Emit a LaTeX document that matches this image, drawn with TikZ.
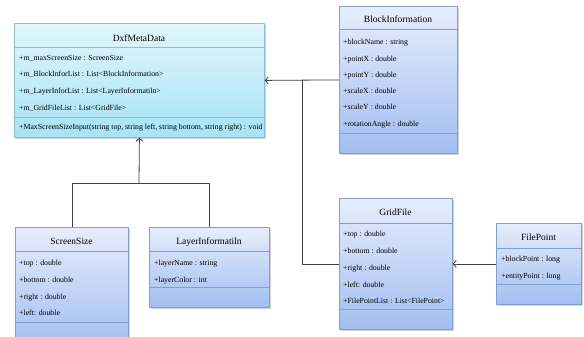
\documentclass[tikz,border=0pt]{standalone}
\usepackage{fontspec}
\setmainfont{Liberation Serif}
\usetikzlibrary{arrows.meta,shadows}

\definecolor{cyantop}{HTML}{E2F6FC}
\definecolor{cyanbot}{HTML}{A6E3F6}
\definecolor{cyanrule}{HTML}{88BDD2}
\definecolor{bluetop}{HTML}{E6EDFC}
\definecolor{bluebot}{HTML}{A2BEF0}
\definecolor{bluerule}{HTML}{7F9FCF}
\definecolor{wire}{HTML}{404040}

\tikzset{
  classbox/.style={draw=#1rule, line width=0.8pt, top color=#1top, bottom color=#1bot,
    anchor=north west, inner sep=0pt,
    drop shadow={shadow xshift=1.6pt, shadow yshift=-1.6pt, opacity=0.35, fill=gray}},
  divider/.style={draw=#1rule, line width=0.7pt},
  classtitle/.style={font=\fontsize{9.5}{10}\selectfont, inner sep=0pt, anchor=base, yshift=-3.2pt},
  member/.style={font=\fontsize{7.8}{8}\selectfont, anchor=base west, inner sep=0pt, yshift=-2.6pt},
  wireline/.style={draw=wire, line width=0.8pt},
  assoc/.style={wireline, -{Straight Barb[length=3pt,width=7pt,line width=0.8pt]}},
}

\begin{document}
\begin{tikzpicture}[x=1pt,y=-1pt]
\useasboundingbox (0,0) rectangle (584,337);

% ---- class boxes ----
\node[classbox=cyan, minimum width=250pt, minimum height=114pt] (dxf) at (14,23) {};
\draw[divider=cyan] (14,47) -- (264,47);
\draw[divider=cyan] (14,117) -- (264,117);
\node[classtitle] (dxfT) at (139,38) {DxfMetaData};
\node[member] (dxfA1) at (19,58) {+m\_maxScreenSize : ScreenSize};
\node[member] (dxfA2) at (19,74) {+m\_BlockInforList : List<BlockInformation>};
\node[member] (dxfA3) at (19,91) {+m\_LayerInforList : List<LayerInformatiln>};
\node[member] (dxfA4) at (19,108) {+m\_GridFileList : List<GridFile>};
\node[member] (dxfM1) at (19,127) {+MaxScreenSizeInput(string top, string left, string bottom, string right) : void};

\node[classbox=blue, minimum width=118pt, minimum height=147pt] (block) at (339,6) {};
\draw[divider=blue] (339,29) -- (457,29);
\draw[divider=blue] (339,133) -- (457,133);
\node[classtitle] (blockT) at (398,19) {BlockInformation};
\node[member] (blockA1) at (343,42) {+blockName : string};
\node[member] (blockA2) at (343,59) {+pointX : double};
\node[member] (blockA3) at (343,75) {+pointY : double};
\node[member] (blockA4) at (343,91) {+scaleX : double};
\node[member] (blockA5) at (343,107) {+scaleY : double};
\node[member] (blockA6) at (343,124) {+rotationAngle : double};

\node[classbox=blue, minimum width=113pt, minimum height=120pt] (screen) at (15,227) {};
\draw[divider=blue] (15,251) -- (128,251);
\draw[divider=blue] (15,322) -- (128,322);
\node[classtitle] (screenT) at (71.5,241) {ScreenSize};
\node[member] (screenA1) at (19,263) {+top : double};
\node[member] (screenA2) at (19,280) {+bottom : double};
\node[member] (screenA3) at (19,297) {+right : double};
\node[member] (screenA4) at (19,313) {+left: double};

\node[classbox=blue, minimum width=120pt, minimum height=80pt] (layer) at (149,227) {};
\draw[divider=blue] (149,251) -- (269,251);
\draw[divider=blue] (149,287) -- (269,287);
\node[classtitle] (layerT) at (209,241) {LayerInformatiln};
\node[member] (layerA1) at (154,263) {+layerName : string};
\node[member] (layerA2) at (154,280) {+layerColor : int};

\node[classbox=blue, minimum width=113pt, minimum height=131pt] (grid) at (339,198) {};
\draw[divider=blue] (339,223) -- (452,223);
\draw[divider=blue] (339,309) -- (452,309);
\node[classtitle] (gridT) at (395.5,212) {GridFile};
\node[member] (gridA1) at (343,234) {+top : double};
\node[member] (gridA2) at (343,251) {+bottom : double};
\node[member] (gridA3) at (343,268) {+right : double};
\node[member] (gridA4) at (343,285) {+left: double};
\node[member] (gridA5) at (343,301) {+FilePointList : List<FilePoint>};

\node[classbox=blue, minimum width=85pt, minimum height=81pt] (fp) at (496,223) {};
\draw[divider=blue] (496,248) -- (581,248);
\draw[divider=blue] (496,284) -- (581,284);
\node[classtitle] (fpT) at (538.5,237) {FilePoint};
\node[member] (fpA1) at (501,259) {+blockPoint : long};
\node[member] (fpA2) at (501,276) {+entityPoint : long};

% ---- connectors ----
\coordinate (jn) at (139,183);
\coordinate (jb) at (302,80);
\draw[wireline] (screen.north) |- (layer.north |- jn) -- (layer.north);
\draw[assoc] (jn) -- (dxf.south);
\draw[assoc] (block.west) -- (dxf.east);
\draw[wireline] (grid.west) -| (jb);
\draw[assoc] (fp.west) -- (grid.east);
\end{tikzpicture}
\end{document}
